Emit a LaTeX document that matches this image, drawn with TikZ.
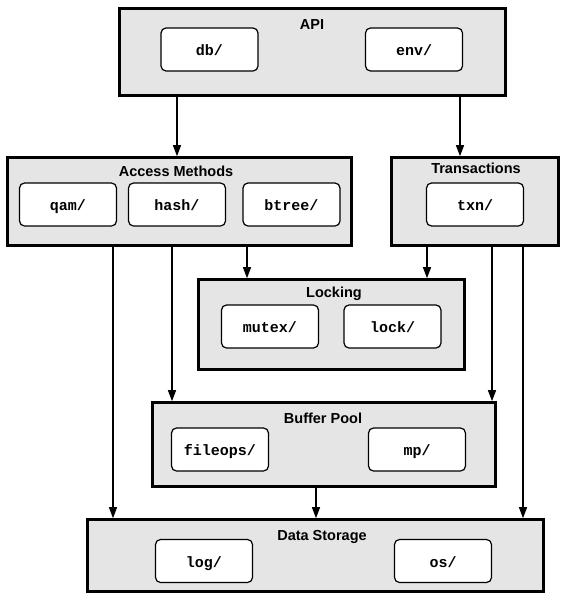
\documentclass[tikz,border=0pt]{standalone}
\usepackage{fontspec}
\setmainfont{Liberation Sans}
\setmonofont{Liberation Mono}
\usepackage{tikz}
\definecolor{Grey10}{RGB}{229, 229, 229}
\usetikzlibrary{positioning, arrows.meta}
\tikzset{
    modulo/.style = {draw=black, line width=2.6pt, fill=Grey10, inner sep=0pt},
    cartella/.style = {draw=black, line width=1.2pt, fill=white, rounded corners=5pt, minimum width=97pt, minimum height=43pt, inner sep=0pt, text height=12pt, text depth=0pt, font=\fontsize{15}{18}\selectfont\ttfamily\bfseries},
    titolo/.style = {anchor=base, inner sep=0pt, font=\fontsize{14.5}{17}\selectfont\bfseries},
    freccia/.style = {line width=1.3pt, arrows = {-Triangle[length=11pt, width=8pt]}}
}

\begin{document}
\begin{tikzpicture}[x=1pt, y=-1pt]
    \useasboundingbox (0,0) rectangle (568,600);

    %%% Modules
    \node[modulo, minimum width=386pt, minimum height=87pt] (api)     at (312.5, 52)    {};
    \node[modulo, minimum width=344pt, minimum height=88pt] (accesso) at (179.5, 201.5) {};
    \node[modulo, minimum width=167pt, minimum height=88pt] (transaz) at (475, 201.5)   {};
    \node[modulo, minimum width=266pt, minimum height=90pt] (locking) at (331.5, 324.5) {};
    \node[modulo, minimum width=343pt, minimum height=84pt] (buffer)  at (324, 444.5)   {};
    \node[modulo, minimum width=456pt, minimum height=72pt] (dati)    at (315.5, 555.5) {};

    % titles
    \node[titolo] (titolo api)     at (312, 29)   {API};
    \node[titolo] (titolo accesso) at (176, 176)  {Access Methods};
    \node[titolo] (titolo transaz) at (476, 173)  {Transactions};
    \node[titolo] (titolo locking) at (334, 297)  {Locking};
    \node[titolo] (titolo buffer)  at (323, 423)  {Buffer Pool};
    \node[titolo] (titolo dati)    at (322, 540)  {Data Storage};

    %%% Directories
    \node[cartella] (db)      at (209.5, 49.5)  {db/};
    \node[cartella] (env)     at (414, 49.5)    {env/};
    \node[cartella] (qam)     at (68, 204.5)    {qam/};
    \node[cartella] (hash)    at (177, 204.5)   {hash/};
    \node[cartella] (btree)   at (291.5, 204.5) {btree/};
    \node[cartella] (txn)     at (475, 204.5)   {txn/};
    \node[cartella] (mutex)   at (270, 326.5)   {mutex/};
    \node[cartella] (lock)    at (392.5, 326.5) {lock/};
    \node[cartella] (fileops) at (220, 449.5)   {fileops/};
    \node[cartella] (mp)      at (417, 449.5)   {mp/};
    \node[cartella] (log)     at (204, 561)     {log/};
    \node[cartella] (os)      at (443, 561)     {os/};

    %%% Dependencies
    \draw[freccia] (api.south -| 177,0) -- (accesso.north -| 177,0);
    \draw[freccia] (api.south -| 460,0) -- (transaz.north -| 460,0);

    \draw[freccia] (accesso.south -| 113,0) -- (dati.north -| 113,0);
    \draw[freccia] (accesso.south -| 172,0) -- (buffer.north -| 172,0);
    \draw[freccia] (accesso.south -| 247,0) -- (locking.north -| 247,0);

    \draw[freccia] (transaz.south -| 427,0) -- (locking.north -| 427,0);
    \draw[freccia] (transaz.south -| 492,0) -- (buffer.north -| 492,0);
    \draw[freccia] (transaz.south -| 523,0) -- (dati.north -| 523,0);

    \draw[freccia] (buffer.south -| 316,0) -- (dati.north -| 316,0);
\end{tikzpicture}
\end{document}
